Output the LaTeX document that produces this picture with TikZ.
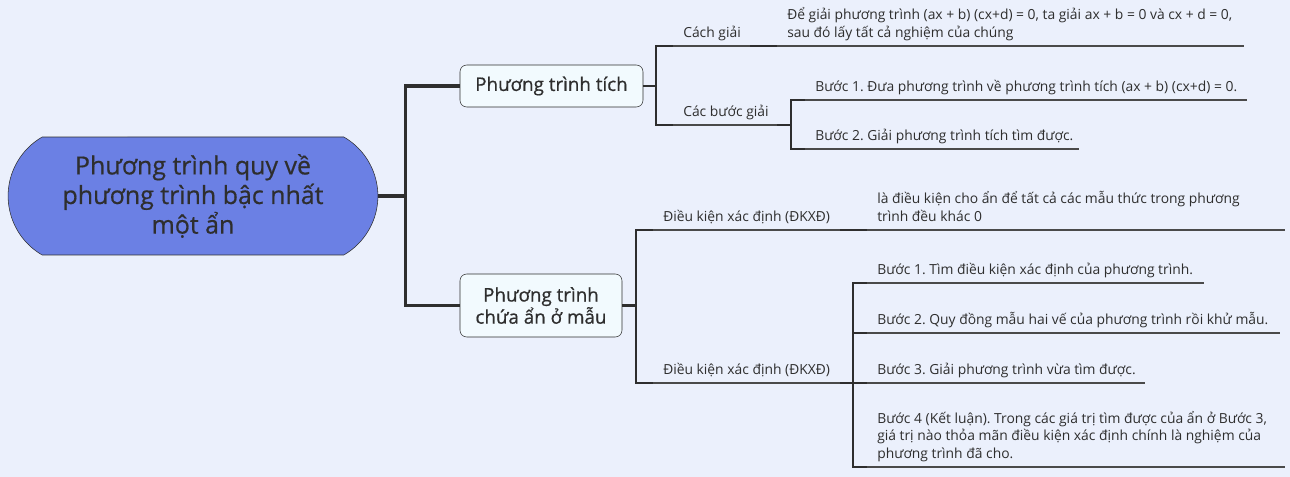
\documentclass[tikz,border=0pt]{standalone}
\usepackage{fontspec}
\setmainfont{Open Sans}
\newfontfamily\headfont[FakeBold=0.6]{Open Sans}
\usetikzlibrary{shapes.misc}
\frenchspacing

\definecolor{bgblue}{HTML}{EBF0FC}
\definecolor{rootfill}{HTML}{6B80E4}
\definecolor{nodefill}{HTML}{F2FAFE}
\definecolor{inkgray}{HTML}{2E2E2E}
\definecolor{linegray}{HTML}{4A4A4A}

\begin{document}
\begin{tikzpicture}[x=0.75pt, y=-0.75pt]
        \tikzstyle{root} = [rounded rectangle, rounded rectangle arc length=120, minimum width=284pt, minimum height=88.5pt, align=center, draw=inkgray, fill=rootfill, text=inkgray, font=\headfont\fontsize{18.7}{22.2}\selectfont]
        \tikzstyle{mainbox} = [rectangle, rounded corners=5pt, align=center, draw=inkgray, fill=nodefill, text=inkgray, font=\headfont\fontsize{14.1}{16.6}\selectfont]
        \tikzstyle{topic} = [anchor=south west, inner xsep=7.5pt, inner ysep=3.4pt, text depth=3pt, align=left, text=inkgray, font=\fontsize{10.4}{13}\selectfont]
        \tikzstyle{trunk} = [line width=2.3pt, draw=inkgray]
        \tikzstyle{branch} = [line width=1.8pt, draw=inkgray]
        \tikzstyle{uline} = [line width=0.8pt, draw=linegray]

        \path [use as bounding box, fill=bgblue] (0,0) rectangle (1290,477);

        \node (root) [root] at (193,196) {Phương trình quy về\\phương trình bậc nhất\\một ẩn};
        \node (ptich) [mainbox, minimum width=137.25pt, minimum height=31.5pt] at (551.5,86) {Phương trình tích};
        \node (pchua) [mainbox, minimum width=121.5pt, minimum height=47.25pt] at (541,305.5) {Phương trình\\chứa ẩn ở mẫu};

        \node (cach) [topic] at (673,46) {Cách giải};
        \node (degiai) [topic] at (777,46) {Để giải phương trình (ax + b) (cx+d) = 0, ta giải ax + b = 0 và cx + d = 0,\\sau đó lấy tất cả nghiệm của chúng};
        \node (cacbuoc) [topic] at (673,125) {Các bước giải};
        \node (tich1) [topic] at (805,100) {Bước 1. Đưa phương trình về phương trình tích (ax + b) (cx+d) = 0.};
        \node (tich2) [topic] at (805,149) {Bước 2. Giải phương trình tích tìm được.};

        \node (dkxd) [topic] at (653,230) {Điều kiện xác định (ĐKXĐ)};
        \node (dinhnghia) [topic] at (867,230) {là điều kiện cho ẩn để tất cả các mẫu thức trong phương\\trình đều khác 0};
        \node (dkxd2) [topic] at (653,383) {Điều kiện xác định (ĐKXĐ)};
        \node (mau1) [topic] at (867,283) {Bước 1. Tìm điều kiện xác định của phương trình.};
        \node (mau2) [topic] at (867,333) {Bước 2. Quy đồng mẫu hai vế của phương trình rồi khử mẫu.};
        \node (mau3) [topic] at (867,383) {Bước 3. Giải phương trình vừa tìm được.};
        \node (mau4) [topic] at (867,467) {Bước 4 (Kết luận). Trong các giá trị tìm được của ẩn ở Bước 3,\\giá trị nào thỏa mãn điều kiện xác định chính là nghiệm của\\phương trình đã cho.};

        % underlines of the topics
        \foreach \n/\len in {cach/77, degiai/467, cacbuoc/104, tich1/442, tich2/274, dkxd/187, dinhnghia/418, dkxd2/187, mau1/337, mau2/413, mau3/278, mau4/418}
            \draw [uline] (\n.south west) -- ++(\len,0) coordinate (\n-end);

        \draw [trunk] (root.east) -- ++(27,0) |- (ptich.west);
        \draw [trunk] (root.east) -- ++(27,0) |- (pchua.west);

        \draw [branch] (ptich.east) -- ++(13,0) |- (cach.south west);
        \draw [branch] (ptich.east) -- ++(13,0) |- (cacbuoc.south west);
        \draw [branch] (cach-end) -- (degiai.south west);
        \draw [branch] (cacbuoc-end) -- ++(14,0) |- (tich1.south west);
        \draw [branch] (cacbuoc-end) -- ++(14,0) |- (tich2.south west);

        \draw [branch] (pchua.east) -- ++(14,0) |- (dkxd.south west);
        \draw [branch] (pchua.east) -- ++(14,0) |- (dkxd2.south west);
        \draw [branch] (dkxd-end) -- (dinhnghia.south west);
        \draw [branch] (dkxd2-end) -- ++(13,0) |- (mau1.south west);
        \draw [branch] (dkxd2-end) -- ++(13,0) |- (mau2.south west);
        \draw [branch] (dkxd2-end) -- (mau3.south west);
        \draw [branch] (dkxd2-end) -- ++(13,0) |- (mau4.south west);
    \end{tikzpicture}
\end{document}
